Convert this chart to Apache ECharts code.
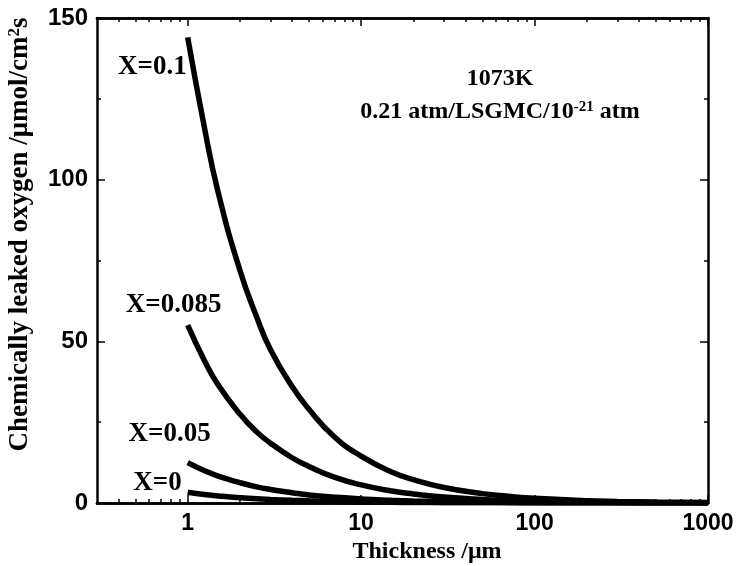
<!DOCTYPE html>
<html><head><meta charset="utf-8">
<script src="https://cdn.jsdelivr.net/npm/echarts@6/dist/echarts.min.js"></script>
<style>html,body{margin:0;padding:0;background:#fff}#c{width:747px;height:566px}</style>
</head><body><div id="c"></div>
<script>
// Thickness (µm) sample points
const thickness = [1, 1.25, 1.5, 2, 2.5, 3, 4, 5, 7, 10, 15, 20, 30, 50, 70, 100, 200, 300, 500, 1000];
// Chemically leaked oxygen (µmol/cm²s)
const leakX0100 = [144, 116, 96, 72, 57.5, 47.5, 36, 29, 20.5, 14.5, 9.6, 7.2, 4.8, 2.9, 2.1, 1.45, 0.72, 0.48, 0.29, 0.15];
const leakX0085 = [55, 44, 36.5, 27.5, 22, 18.5, 14, 11.3, 8, 5.6, 3.7, 2.8, 1.85, 1.1, 0.8, 0.55, 0.28, 0.19, 0.11, 0.06];
const leakX0050 = [12.5, 10, 8.3, 6.3, 5, 4.2, 3.2, 2.5, 1.8, 1.25, 0.85, 0.63, 0.42, 0.25, 0.18, 0.13, 0.06, 0.04, 0.03, 0.01];
const leakX0000 = [3.3, 2.6, 2.2, 1.65, 1.3, 1.1, 0.83, 0.66, 0.47, 0.33, 0.22, 0.17, 0.11, 0.07, 0.05, 0.03, 0.02, 0.01, 0.01, 0.0];
const seriesNames = ['X=0.1', 'X=0.085', 'X=0.05', 'X=0'];
const xMajorTicks = [1, 10, 100, 1000];
const xMinorTicks = [0.4, 0.5, 0.6, 0.7, 0.8, 0.9, 2, 3, 4, 5, 6, 7, 8, 9, 20, 30, 40, 50, 60, 70, 80, 90, 200, 300, 400, 500, 600, 700, 800, 900];
const yTicks = [0, 50, 100, 150];

const SERIF = "'Liberation Serif','Times New Roman',serif";
const SANS = "'Liberation Sans',Arial,sans-serif";
const X_MIN = 0.3, X_MAX = 1000;
const chart = echarts.init(document.getElementById('c'), null, {renderer: 'canvas'});

// main log axis (labels + major ticks)
function xLogAxis(pos, showLabel, extra) {
  return Object.assign({
    type: 'log', logBase: 10, position: pos, min: X_MIN, max: X_MAX,
    axisLine: {show: true, onZero: false, lineStyle: {color: '#000', width: 2.5}},
    axisTick: {show: true, inside: true, length: 8, customValues: xMajorTicks, lineStyle: {color: '#000', width: 1.5}},
    axisLabel: {show: showLabel, customValues: xMajorTicks, formatter: v => String(Math.round(v)),
      color: '#000', fontFamily: SANS, fontWeight: 'bold', fontSize: 23, margin: 9},
    minorTick: {show: false}, splitLine: {show: false}
  }, extra || {});
}
// helper axis in log10 space carrying the minor ticks of the log axis
function xMinorAxis(pos) {
  return {
    type: 'value', position: pos, min: Math.log10(X_MIN), max: Math.log10(X_MAX),
    axisLine: {show: true, onZero: false, lineStyle: {color: '#000', width: 2.5}},
    axisTick: {show: true, inside: true, length: 4, customValues: xMinorTicks.map(v => Math.log10(v)), lineStyle: {color: '#000', width: 1.5}},
    axisLabel: {show: false}, minorTick: {show: false}, splitLine: {show: false}
  };
}
function yAxisDef(pos, showLabel, extra) {
  return Object.assign({
    type: 'value', position: pos, min: yTicks[0], max: yTicks[yTicks.length - 1], interval: 50,
    axisLine: {show: true, onZero: false, lineStyle: {color: '#000', width: 2.5}},
    axisTick: {show: true, inside: true, length: 8, lineStyle: {color: '#000', width: 1.5}},
    minorTick: {show: true, splitNumber: 2, length: 4, lineStyle: {color: '#000', width: 1.5}},
    axisLabel: {show: showLabel, color: '#000', fontFamily: SANS, fontWeight: 'bold', fontSize: 24, margin: 9},
    splitLine: {show: false}, minorSplitLine: {show: false}
  }, extra || {});
}

const dataSets = [leakX0100, leakX0085, leakX0050, leakX0000];
const labelCfg = [
  {align: 'right', offset: [-1, 30]},
  {align: 'center', offset: [-14, -20]},
  {align: 'center', offset: [-18, -29]},
  {align: 'right', offset: [-6, -9]}
];
const series = dataSets.map((vals, i) => ({
  name: seriesNames[i], type: 'line', xAxisIndex: 0, yAxisIndex: 0,
  showSymbol: false, symbol: 'none', smooth: true, clip: true,
  lineStyle: {color: '#000', width: 5.5},
  data: thickness.map((t, k) => [t, vals[k]]),
  markPoint: {
    symbol: 'circle', symbolSize: 0, silent: true,
    data: [{coord: [thickness[0], vals[0]],
      label: {show: true, formatter: seriesNames[i], position: 'inside', align: labelCfg[i].align,
        verticalAlign: 'middle', offset: labelCfg[i].offset, color: '#000',
        fontFamily: SERIF, fontWeight: 'bold', fontSize: 27}}]
  }
}));

chart.setOption({
  animation: false,
  backgroundColor: '#fff',
  grid: {left: 97, right: 39, top: 18, bottom: 63, containLabel: false, outerBoundsMode: 'none'},
  xAxis: [
    xLogAxis('bottom', true, {
      name: 'Thickness /\u03bcm', nameLocation: 'middle', nameGap: 36,
      nameTextStyle: {color: '#000', fontFamily: SERIF, fontWeight: 'bold', fontSize: 24, padding: [0, 0, 0, 49]}
    }),
    xLogAxis('top', false),
    xMinorAxis('bottom'),
    xMinorAxis('top')
  ],
  yAxis: [
    yAxisDef('left', true, {
      name: 'Chemically leaked oxygen /\u03bcmol/cm{sup|2}s', nameLocation: 'middle', nameGap: 63, nameRotate: 90,
      nameTextStyle: {color: '#000', fontFamily: SERIF, fontWeight: 'bold', fontSize: 27, padding: [0, 0, 0, 52],
        rich: {sup: {fontFamily: SERIF, fontWeight: 'bold', fontSize: 17, verticalAlign: 'top', padding: [0, 0, 11, 0]}}}
    }),
    yAxisDef('right', false)
  ],
  graphic: [
    {type: 'text', x: 500, y: 79, style: {text: '1073K', fill: '#000', font: 'bold 24px ' + SERIF, textAlign: 'center', textVerticalAlign: 'middle'}},
    {type: 'text', x: 500, y: 112, style: {text: '0.21 atm/LSGMC/10{sup|-21} atm', fill: '#000', font: 'bold 24px ' + SERIF,
      textAlign: 'center', textVerticalAlign: 'middle',
      rich: {sup: {fill: '#000', font: 'bold 15px ' + SERIF, padding: [0, 0, 10, 0]}}}}
  ],
  series: series
});
</script></body></html>
